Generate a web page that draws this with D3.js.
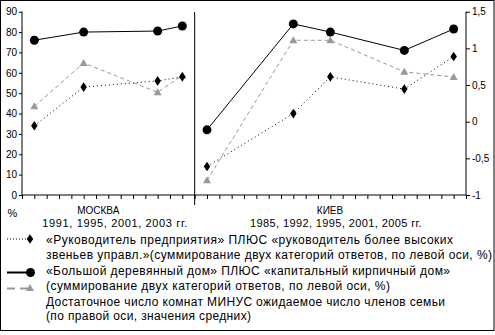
<!DOCTYPE html>
<html><head><meta charset="utf-8">
<script src="https://cdn.jsdelivr.net/npm/d3@7"></script>
<style>
html,body{margin:0;padding:0;background:#fff;}
svg{display:block;font-family:"Liberation Sans",Arial,sans-serif;}
</style></head>
<body>
<script>
// ---- data ----
const moscowYears = [1991, 1995, 2001, 2003];
const kievYears = [1985, 1992, 1995, 2001, 2005];
const managerMoscow = [34, 53, 56, 58];          // left axis, %
const managerKiev = [14, 40, 58, 52, 68];
const houseMoscow = [76, 80, 80.5, 83];           // left axis, %
const houseKiev = [32, 84, 80, 71, 81.5];
const roomsMoscow = [0.21, 0.80, 0.40, 0.63];     // right axis, means
const roomsKiev = [-0.80, 1.11, 1.11, 0.68, 0.61];
const leftTicks = [0, 10, 20, 30, 40, 50, 60, 70, 80, 90];
const rightTicks = [-1, -0.5, 0, 0.5, 1, 1.5];
const cityLabels = ["МОСКВА", "КИЕВ"];
const yearLabels = ["1991, 1995, 2001, 2003  гг.", "1985, 1992, 1995, 2001, 2005 гг."];
const legendLines = [
  ["«Руководитель предприятия» ПЛЮС «руководитель более высоких",
   "звеньев управл.»(суммирование двух категорий ответов, по левой оси, %)"],
  ["«Большой деревянный дом» ПЛЮС «капитальный кирпичный дом»",
   "(суммирование двух категорий ответов, по левой оси, %)"],
  ["Достаточное число комнат МИНУС ожидаемое число членов семьи",
   "(по правой оси, значения средних)"]
];

// ---- layout ----
const W = 495, H = 335;
const svg = d3.select("body").append("svg").attr("width", W).attr("height", H);
svg.append("rect").attr("x", 0.5).attr("y", 0.5).attr("width", 493.5).attr("height", 330)
  .attr("fill", "#fff").attr("stroke", "#000");

// index scale: one slot per year; Moscow from 1990, Kiev from 1985 at slot 15
const x = d3.scaleLinear().domain([0, 36]).range([22, 466]);
const mIdx = y => y - 1990;
const kIdx = y => 15 + (y - 1985);
const yL = d3.scaleLinear().domain([0, 90]).range([195, 11.7]);
const yR = d3.scaleLinear().domain([-1, 1.5]).range([195, 11.7]);

// axes
const gL = svg.append("g").attr("transform", "translate(22,0)")
  .call(d3.axisLeft(yL).tickValues(leftTicks).tickSize(3).tickPadding(2));
const gR = svg.append("g").attr("transform", "translate(466,0)")
  .call(d3.axisRight(yR).tickValues(rightTicks).tickSize(4).tickPadding(2)
    .tickFormat(d => String(d).replace(".", ",")));
const gX = svg.append("g").attr("transform", "translate(0,195)")
  .call(d3.axisBottom(x).tickValues(d3.range(0, 37)).tickSize(4).tickFormat(""));
[gL, gR, gX].forEach(g => {
  g.select(".domain").attr("stroke", "#000").attr("stroke-width", 1);
  g.selectAll(".tick line").attr("stroke", "#000");
  g.selectAll("text").attr("font-size", 10).attr("fill", "#000")
    .attr("font-family", '"Liberation Sans",Arial,sans-serif');
});
gX.select(".domain").attr("d", `M${x(0)},0H${x(36)}`);
gL.select(".domain").attr("d", `M0,${yL(90)}V${yL(0)}`);
gR.select(".domain").attr("d", `M0,${yR(1.5)}V${yR(-1)}`);

// separator
svg.append("line").attr("x1", x(14)).attr("x2", x(14)).attr("y1", 12).attr("y2", 205)
  .attr("stroke", "#000");

// series
function drawSeries(years, idx, vals, yScale, style) {
  const pts = years.map((yr, i) => [x(idx(yr)), yScale(vals[i])]);
  svg.append("path").attr("d", d3.line()(pts)).attr("fill", "none")
    .attr("stroke", style.color).attr("stroke-width", 1)
    .attr("stroke-dasharray", style.dash || null);
  pts.forEach(p => drawMarker(p[0], p[1], style.marker));
}
function drawMarker(cx, cy, type) {
  if (type === "diamond") {
    svg.append("path").attr("d", d3.symbol(d3.symbolDiamond, 30)())
      .attr("transform", `translate(${cx},${cy}) scale(1.1,0.95)`).attr("fill", "#000");
  } else if (type === "circle") {
    svg.append("circle").attr("cx", cx).attr("cy", cy).attr("r", 4.5).attr("fill", "#000");
  } else {
    svg.append("path").attr("d", `M0,-4L4,3L-4,3Z`)
      .attr("transform", `translate(${cx},${cy})`).attr("fill", "#999");
  }
}
const styles = {
  manager: {color: "#000", dash: "1,3", marker: "diamond"},
  house: {color: "#000", marker: "circle"},
  rooms: {color: "#999", dash: "4,3", marker: "triangle"}
};
drawSeries(moscowYears, mIdx, roomsMoscow, yR, styles.rooms);
drawSeries(kievYears, kIdx, roomsKiev, yR, styles.rooms);
drawSeries(moscowYears, mIdx, managerMoscow, yL, styles.manager);
drawSeries(kievYears, kIdx, managerKiev, yL, styles.manager);
drawSeries(moscowYears, mIdx, houseMoscow, yL, styles.house);
drawSeries(kievYears, kIdx, houseKiev, yL, styles.house);

// category labels
function txt(s, px, py, size, anchor, len) {
  const t = svg.append("text").attr("x", px).attr("y", py).attr("font-size", size)
    .attr("text-anchor", anchor).attr("fill", "#000").text(s);
  if (len) t.attr("textLength", len).attr("lengthAdjust", "spacing");
  return t;
}
txt("%", 7.5, 217, 11, "start");
txt(cityLabels[0], 98.3, 214, 10, "middle");
txt(yearLabels[0], 114.8, 227, 11, "middle", 145);
txt(cityLabels[1], 330, 214, 10, "middle");
txt(yearLabels[1], 335.8, 227, 11, "middle", 171.7);

// legend
const legBase = [[244, 259], [275, 290], [305.5, 320]];
const legLen = [[407, 446], [404, 344], [399, 205]];
legendLines.forEach((lines, i) => {
  lines.forEach((s, j) => txt(s, 46, legBase[i][j], 12, "start", legLen[i][j]));
});
// legend symbols
svg.append("line").attr("x1", 7).attr("x2", 29).attr("y1", 239).attr("y2", 239)
  .attr("stroke", "#000").attr("stroke-dasharray", "1,2");
drawMarker(30, 239, "diamond");
svg.append("line").attr("x1", 7).attr("x2", 30).attr("y1", 272.5).attr("y2", 272.5)
  .attr("stroke", "#000").attr("stroke-width", 2);
drawMarker(30.5, 272.5, "circle");
svg.append("line").attr("x1", 7).attr("x2", 28).attr("y1", 288.5).attr("y2", 288.5)
  .attr("stroke", "#999").attr("stroke-width", 2).attr("stroke-dasharray", "8,5");
drawMarker(30, 288, "triangle");
</script>
</body></html>
